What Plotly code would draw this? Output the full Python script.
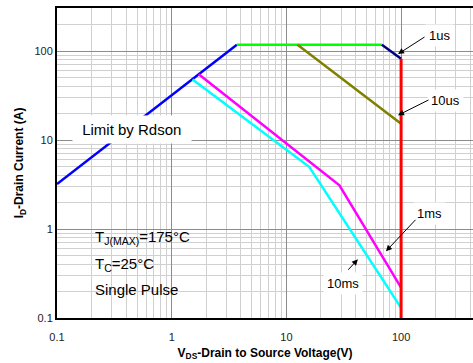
import numpy as np
import plotly.graph_objects as go

# Safe operating area boundaries (V_DS in volts, I_D in amps)
rdson_v = [0.1, 3.7]
rdson_i = [3.2, 118]

limit_1us_v = [3.7, 68]
limit_1us_i = [118, 118]

edge_1us_v = [68, 100]
edge_1us_i = [118, 82]

limit_10us_v = [12.5, 100]
limit_10us_i = [118, 15.2]

bv_v = [100, 100]
bv_i = [82, 0.1]

limit_1ms_v = [1.72, 29, 100]
limit_1ms_i = [55, 3.1, 0.22]

limit_10ms_v = [1.52, 15.8, 100]
limit_10ms_i = [48, 5.0, 0.13]

x_ticks = [0.1, 1, 10, 100]
x_tick_text = ["0.1", "1", "10", "100"]
y_ticks = [0.1, 1, 10, 100]
y_tick_text = ["0.1", "1", "10", "100"]

FONT = "Liberation Sans, Arial, sans-serif"

fig = go.Figure()

def add_line(x, y, color, width=2.5):
    fig.add_trace(go.Scatter(x=x, y=y, mode="lines",
                             line=dict(color=color, width=width),
                             showlegend=False, hoverinfo="skip"))

add_line(rdson_v, rdson_i, "#0000FF")
add_line(limit_1us_v, limit_1us_i, "#00FF00")
add_line(edge_1us_v, edge_1us_i, "#000080")
add_line(limit_10us_v, limit_10us_i, "#808000")
add_line(limit_1ms_v, limit_1ms_i, "#FF00FF")
add_line(limit_10ms_v, limit_10ms_i, "#00FFFF")
add_line(bv_v, bv_i, "#FF0000", width=3)

# minor grid positions 2..9 in each decade
minor_x = [m * 10.0 ** d for d in range(-1, 3) for m in range(2, 10)]
minor_y = [m * 10.0 ** d for d in range(-1, 3) for m in range(2, 10)]

x_range = [-1, 2.627]
y_range = [-1, 2.484]

fig.update_xaxes(
    type="log", range=x_range,
    tickmode="array", tickvals=x_ticks, ticktext=x_tick_text,
    showgrid=True, gridcolor="#8c8c8c", gridwidth=1,
    minor=dict(tickmode="array", tickvals=minor_x, showgrid=True,
               gridcolor="#d0d0d0", gridwidth=1, ticks=""),
    showline=True, linecolor="black", linewidth=2, mirror=True,
    ticks="", ticklabelstandoff=8,
    tickfont=dict(family=FONT, size=11, color="#222"),
    title=dict(text="<b>V<sub>DS</sub>-Drain to Source Voltage(V)</b>",
               font=dict(family=FONT, size=12, color="black"), standoff=6),
    zeroline=False,
)
fig.update_yaxes(
    type="log", range=y_range,
    tickmode="array", tickvals=y_ticks, ticktext=y_tick_text,
    showgrid=True, gridcolor="#8c8c8c", gridwidth=1,
    minor=dict(tickmode="array", tickvals=minor_y, showgrid=True,
               gridcolor="#d0d0d0", gridwidth=1, ticks=""),
    showline=True, linecolor="black", linewidth=2,
    ticks="", tickfont=dict(family=FONT, size=11, color="#222"),
    title=dict(text="<b>I<sub>D</sub>-Drain Current (A)</b>",
               font=dict(family=FONT, size=12, color="black"), standoff=8),
    zeroline=False,
)

# white panel behind the test conditions
fig.add_shape(type="rect", xref="x", yref="y", layer="below",
              x0=10 ** (-1 + 28 / 114.7), x1=10 ** (-1 + 135 / 114.7),
              y0=10 ** (-1 + 15 / 88.9), y1=10 ** (-1 + 95 / 88.9),
              fillcolor="white", line=dict(width=0))

def label(text, x, y, size=13, bg="white", pad=3, xanchor="center"):
    fig.add_annotation(x=np.log10(x), y=np.log10(y), xref="x", yref="y",
                       text=text, showarrow=False, bgcolor=bg, borderpad=pad,
                       xanchor=xanchor,
                       font=dict(family=FONT, size=size, color="black"))

def arrow(x, y, ax, ay):
    fig.add_annotation(x=np.log10(x), y=np.log10(y), xref="x", yref="y",
                       text="", showarrow=True, ax=ax, ay=ay,
                       arrowhead=2, arrowsize=1.2, arrowwidth=1,
                       arrowcolor="black")

clear = "rgba(0,0,0,0)"
label(" Limit by Rdson ", 0.451, 13.3, size=15, pad=5)
label("T<sub>J(MAX)</sub>=175°C", 0.21, 0.80, size=15, bg=clear, pad=0, xanchor="left")
label("T<sub>C</sub>=25°C", 0.21, 0.40, size=15, bg=clear, pad=0, xanchor="left")
label("Single Pulse", 0.21, 0.21, size=15, bg=clear, pad=0, xanchor="left")

label("1us", 218, 151)
arrow(94, 92.5, 28, -18)
label("10us", 246, 28)
arrow(94, 19, 32, -16)
label("1ms", 178, 1.5)
arrow(73.8, 0.562, 31, -33)
label("10ms", 31.2, 0.245)
arrow(42, 0.457, -11, 12)

fig.update_layout(
    width=473, height=363,
    margin=dict(l=57, r=0, t=8, b=45),
    paper_bgcolor="white", plot_bgcolor="white",
    font=dict(family=FONT),
    showlegend=False,
)

fig.write_html("out.html")
